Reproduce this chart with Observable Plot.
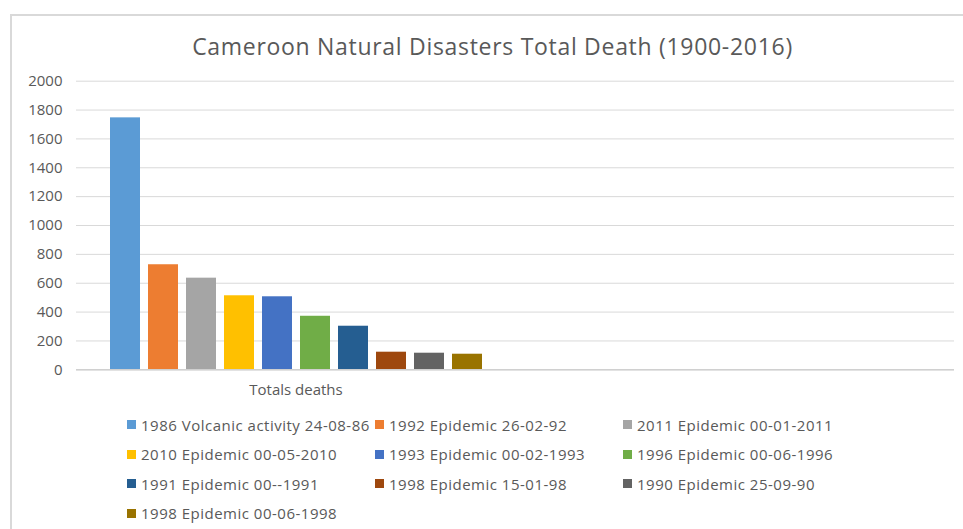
<!DOCTYPE html>
<html>
<head>
<meta charset="utf-8">
<script src="https://cdn.jsdelivr.net/npm/d3@7"></script>
<script src="https://cdn.jsdelivr.net/npm/@observablehq/plot@0.6"></script>
<style>
  body { margin: 0; background: #fff; font-family: "Open Sans", sans-serif; }
  #chart { position: relative; width: 963px; height: 529px; overflow: hidden; }
  #frame { position: absolute; left: 10px; top: 14px; width: 1000px; height: 600px;
           border-left: 2px solid #d9d9d9; border-top: 2px solid #d9d9d9; }
  #title { position: absolute; left: 0; width: 985px; top: 30px; text-align: center;
           font-size: 23px; letter-spacing: 0.7px; color: #595959; line-height: 32px; }
  #plot { position: absolute; left: 0; top: 60px; }
  #legend { position: absolute; left: 127px; top: 410px; display: grid;
            grid-template-columns: repeat(3, 248px); grid-auto-rows: 29.5px; }
  .item { display: flex; align-items: center; font-size: 15px; letter-spacing: 0.5px;
          color: #595959; white-space: nowrap; }
  .sw { width: 9px; height: 9px; margin-right: 5px; flex: none; }
</style>
</head>
<body>
<div id="chart">
  <div id="frame"></div>
  <div id="title">Cameroon Natural Disasters Total Death (1900-2016)</div>
  <div id="plot"></div>
  <div id="legend"></div>
</div>
<script>
// Category groups on the horizontal axis (the second group is left empty)
const categories = ["Totals deaths", ""];

// One bar per disaster event
const disasters = [
  "1986 Volcanic activity 24-08-86",
  "1992 Epidemic 26-02-92",
  "2011 Epidemic 00-01-2011",
  "2010 Epidemic 00-05-2010",
  "1993 Epidemic 00-02-1993",
  "1996 Epidemic 00-06-1996",
  "1991 Epidemic 00--1991",
  "1998 Epidemic 15-01-98",
  "1990 Epidemic 25-09-90",
  "1998 Epidemic 00-06-1998"
];

// Total deaths per event
const deaths = [1746, 728, 635, 513, 506, 371, 302, 122, 115, 108];

// Office palette colours, one per event
const colors = ["#5B9BD5", "#ED7D31", "#A5A5A5", "#FFC000", "#4472C4",
                "#70AD47", "#255E91", "#9E480E", "#636363", "#997300"];

// Y-axis tick values
const yTicks = [0, 200, 400, 600, 800, 1000, 1200, 1400, 1600, 1800, 2000];

const data = disasters.map((d, i) => ({ category: categories[0], disaster: d, deaths: deaths[i] }));

// gridlines are laid out in every category group so they run across the whole frame
const grid = categories.flatMap(c => yTicks.map(t => ({ category: c, tick: t })));
const baseline = categories.map(c => ({ category: c, tick: 0 }));

const chart = Plot.plot({
  width: 963,
  height: 345,
  marginTop: 20.7,
  marginBottom: 35.7,
  marginLeft: 76,
  marginRight: 9,
  style: { fontFamily: "Open Sans, sans-serif", fontSize: "15px", color: "#595959", background: "transparent", overflow: "visible" },
  fx: { domain: categories, padding: 0, label: null },
  x: { domain: disasters, paddingInner: 0.217, paddingOuter: 0.84, axis: null },
  y: { domain: [0, 2000], label: null },
  color: { domain: disasters, range: colors },
  marks: [
    Plot.gridY(grid, { fx: "category", y: "tick", stroke: "#d9d9d9", strokeOpacity: 1, strokeWidth: 1 }),
    Plot.axisY(yTicks, { tickSize: 0, tickPadding: 14, label: null, tickFormat: d => String(d),
                         fill: "#595959", fontSize: 15, letterSpacing: 0.6 }),
    Plot.axisFx({ anchor: "bottom", tickSize: 0, tickPadding: 15, label: null,
                  fill: "#595959", fontSize: 15, letterSpacing: 0.5 }),
    Plot.barY(data, { fx: "category", x: "disaster", y: "deaths", fill: "disaster" }),
    Plot.ruleY(baseline, { fx: "category", y: "tick", stroke: "#d0d0d0", strokeWidth: 1.5 })
  ]
});
document.getElementById("plot").appendChild(chart);

// Legend: three columns, filled row by row
const legend = d3.select("#legend");
disasters.forEach((d, i) => {
  const item = legend.append("div").attr("class", "item");
  item.append("span").attr("class", "sw").style("background", colors[i]);
  item.append("span").text(d);
});
</script>
</body>
</html>
